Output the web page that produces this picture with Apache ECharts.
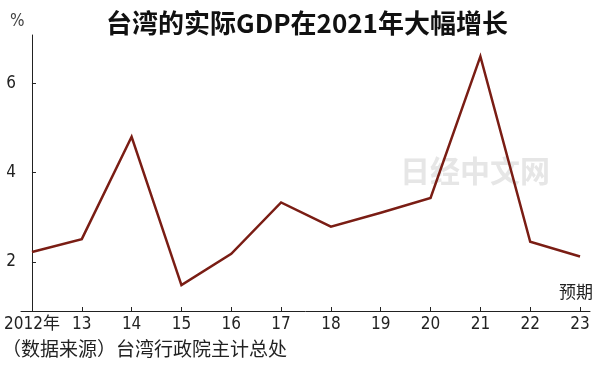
<!DOCTYPE html>
<html>
<head>
<meta charset="utf-8">
<script src="https://cdn.jsdelivr.net/npm/echarts@6/dist/echarts.min.js"></script>
<style>
html,body{margin:0;padding:0;background:#fff;}
#chart{width:600px;height:368px;}
</style>
</head>
<body>
<div id="chart"></div>
<script>
var categories = ['2012年','13','14','15','16','17','18','19','20','21','22','23'];
var growth = [2.22, 2.51, 4.8, 1.48, 2.18, 3.33, 2.79, 3.1, 3.43, 6.6, 2.45, 2.12];
var yTicks = [2, 4, 6];
var titleText = '台湾的实际GDP在2021年大幅增长';
var unitText = '%';
var forecastText = '预期';
var sourceText = '（数据来源）台湾行政院主计总处';
var watermarkText = '日经中文网';

var cjk = '"Noto Sans CJK SC", sans-serif';
var narrow = '"Liberation Sans Narrow", "DejaVu Sans Condensed", "Noto Sans CJK SC", sans-serif';

var idx = categories.map(function(c, i){ return i; });
var seriesData = growth.map(function(v, i){ return [i, v]; });

var chart = echarts.init(document.getElementById('chart'), null, {renderer:'canvas'});
chart.setOption({
  animation: false,
  backgroundColor: '#fff',
  title: {
    text: titleText,
    left: 302, top: 5, textAlign: 'center',
    textStyle: {fontFamily: cjk, fontWeight: 'bold', fontSize: 26, color: '#111'}
  },
  grid: {left: 21, right: 10, top: 35, bottom: 57, containLabel: false},
  xAxis: {
    type: 'value', min: -0.22, max: 11.2,
    axisLine: {show: true, lineStyle: {color: '#222', width: 1}},
    splitLine: {show: false},
    axisTick: {show: true, inside: true, length: 4, customValues: idx, lineStyle: {color: '#222'}},
    axisLabel: {
      customValues: idx, margin: 5,
      fontFamily: narrow, fontSize: 17, color: '#222',
      formatter: function(v){ return categories[Math.round(v)]; }
    }
  },
  yAxis: {
    type: 'value', min: 0.9, max: 7.08,
    axisLine: {show: true, lineStyle: {color: '#222', width: 1}},
    splitLine: {show: false},
    axisTick: {show: true, inside: true, length: 4, customValues: yTicks, lineStyle: {color: '#222'}},
    axisLabel: {customValues: yTicks, margin: 5, fontFamily: narrow, fontSize: 17, color: '#222'}
  },
  series: [{
    type: 'line',
    data: seriesData,
    symbol: 'none',
    lineStyle: {color: '#7a1d14', width: 2.5, join: 'miter'},
    silent: true
  }],
  graphic: [
    {type: 'text', left: 10, top: 13, style: {text: unitText, fontFamily: narrow, fontSize: 17, fill: '#444'}},
    {type: 'text', right: 7, top: 283, style: {text: forecastText, fontFamily: cjk, fontSize: 17, fill: '#222'}},
    {type: 'text', left: 2, top: 339, style: {text: sourceText, fontFamily: cjk, fontSize: 19, fill: '#222'}},
    {type: 'text', left: 400, top: 156, z: -1, style: {text: watermarkText, fontFamily: cjk, fontSize: 30, fontWeight: 'bold', fill: '#e6e6e6', shadowColor: 'rgba(0,0,0,0.5)', shadowBlur: 5, shadowOffsetX: 1, shadowOffsetY: 2}}
  ]
});
</script>
</body>
</html>
